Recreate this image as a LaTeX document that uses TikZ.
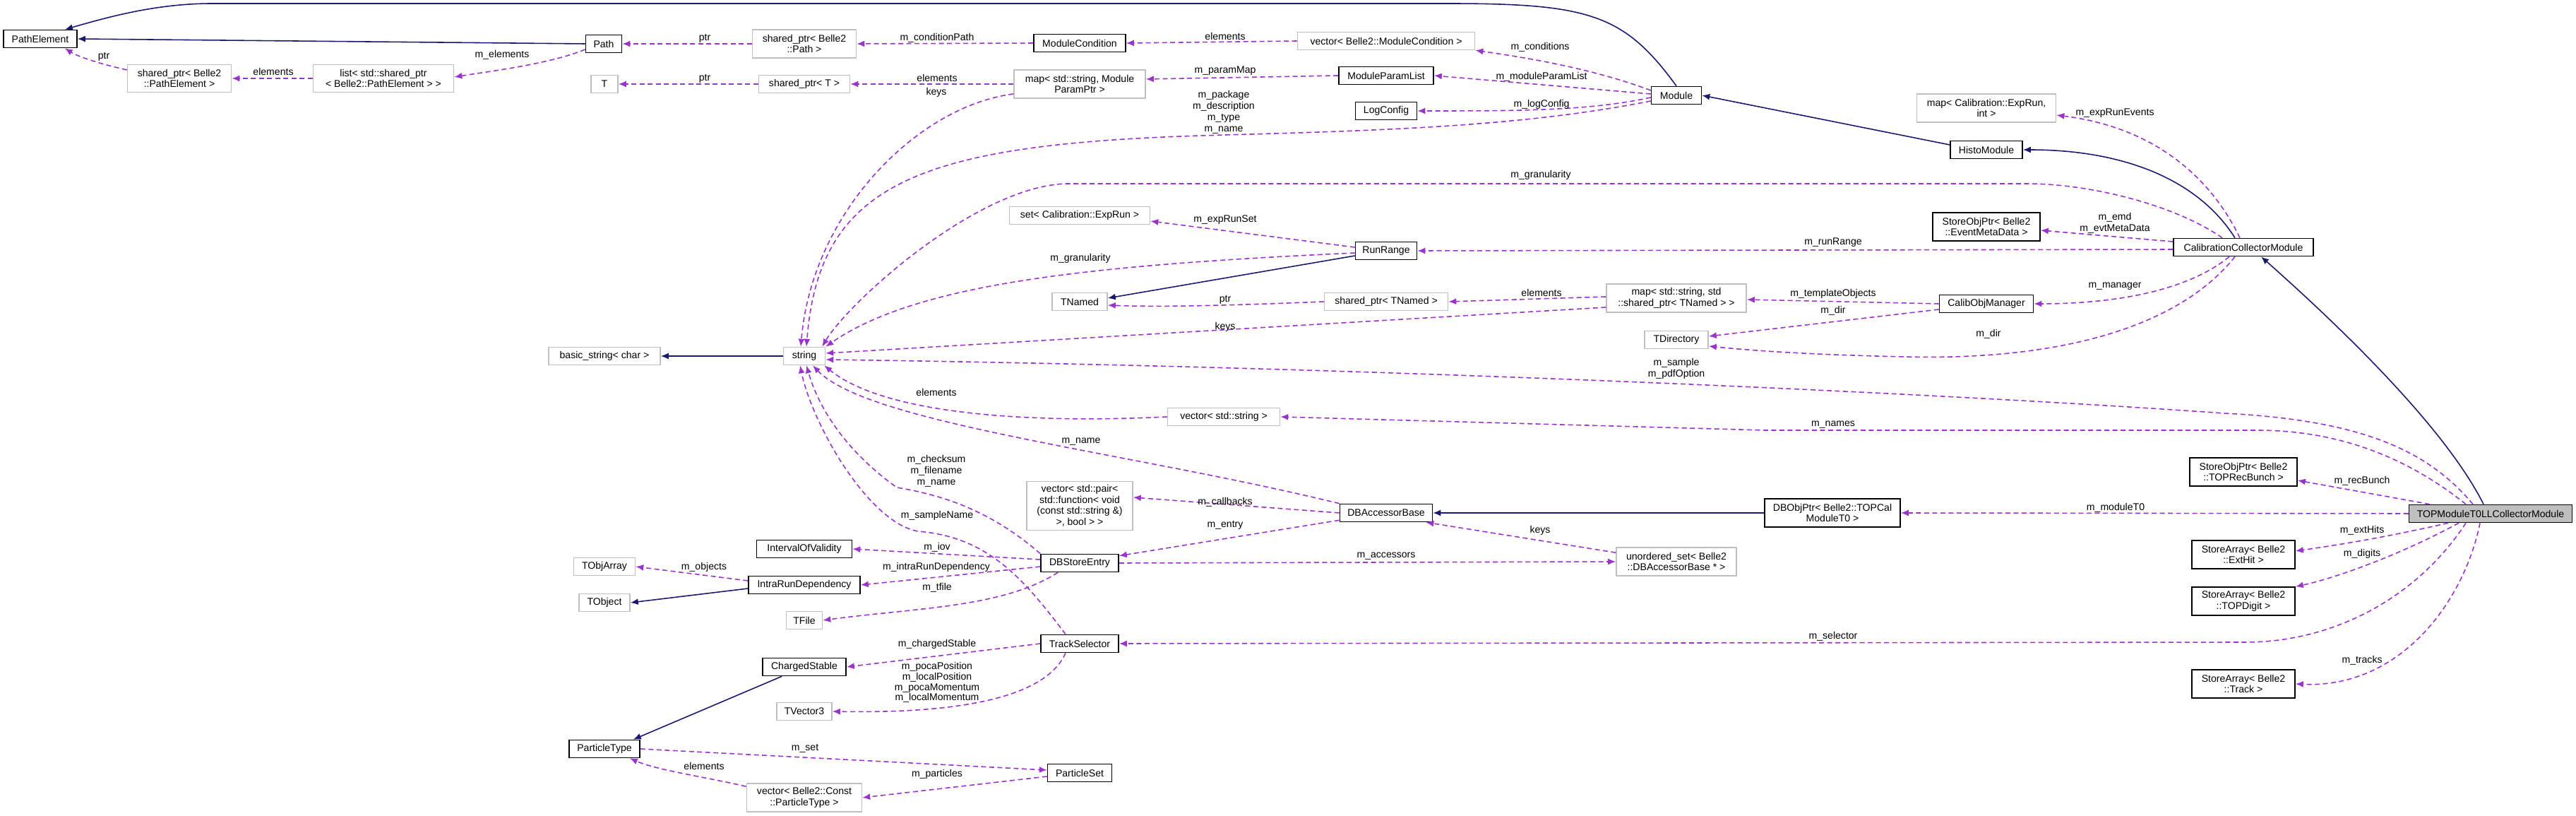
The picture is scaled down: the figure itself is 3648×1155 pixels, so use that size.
\documentclass[tikz,border=0pt]{standalone}
\usepackage{fontspec}
\setmainfont{Liberation Sans}
\usetikzlibrary{arrows.meta,calc}
\definecolor{inhc}{HTML}{191970}
\definecolor{usec}{HTML}{9A32CD}
\definecolor{g75}{HTML}{BFBFBF}
\tikzset{
  bx/.style={draw=black,line width=0.45pt,fill=white,inner sep=0.5pt,align=center,font=\fontsize{4}{4.4}\selectfont},
  gx/.style={bx,draw=g75},
  tx/.style={bx,fill=g75},
  bw/.style={minimum width=#1*0.01cm},
  bh/.style={minimum height=#1*0.01cm},
  lb/.style={inner sep=0pt,align=center,font=\fontsize{4}{4.4}\selectfont},
  inh/.style={draw=inhc,line width=0.45pt,-{Latex[length=1.1mm,width=0.9mm]}},
  use/.style={draw=usec,line width=0.45pt,dash pattern=on 0.7mm off 0.45mm,-{Latex[length=1.1mm,width=0.9mm]}}
}
\begin{document}
\begin{tikzpicture}[x=0.01cm,y=-0.01cm]
\useasboundingbox (0,0) rectangle (3648,1155);
% nodes
\node[bx,bw=104,bh=25] (PE) at (57,55) {PathElement};
\node[bx,bw=51,bh=25] (Path) at (855,62) {Path};
\node[gx,bw=147,bh=39] (spPE) at (254,111) {shared\_ptr< Belle2\\::PathElement >};
\node[gx,bw=199,bh=39] (lst) at (543,111) {list< std::shared\_ptr\\< Belle2::PathElement > >};
\node[gx,bw=38,bh=25] (T) at (856,119) {T};
\node[gx,bw=147,bh=40] (spPath) at (1139,62) {shared\_ptr< Belle2\\::Path >};
\node[bx,bw=130,bh=25] (MC) at (1529,61) {ModuleCondition};
\node[gx,bw=251,bh=25] (vMC) at (1963,58) {vector< Belle2::ModuleCondition >};
\node[gx,bw=129,bh=25] (spT) at (1139,119) {shared\_ptr< T >};
\node[gx,bw=186,bh=40] (mapP) at (1529,119) {map< std::string, Module\\ParamPtr >};
\node[bx,bw=134,bh=25] (MPL) at (1963,107) {ModuleParamList};
\node[bx,bw=87,bh=25] (LC) at (1963,157) {LogConfig};
\node[bx,bw=71,bh=25] (Mod) at (2374,135) {Module};
\node[gx,bw=199,bh=25] (sER) at (1529,305) {set< Calibration::ExpRun >};
\node[bx,bw=87,bh=25] (RR) at (1963,355) {RunRange};
\node[gx,bw=78,bh=25] (TN) at (1529,427) {TNamed};
\node[gx,bw=175,bh=25] (spTN) at (1963,427) {shared\_ptr< TNamed >};
\node[gx,bw=198,bh=40] (mapTN) at (2374,422) {map< std::string, std\\::shared\_ptr< TNamed > >};
\node[gx,bw=90,bh=25] (TD) at (2374,481) {TDirectory};
\node[gx,bw=197,bh=40] (mER) at (2813,153) {map< Calibration::ExpRun,\\int >};
\node[bx,bw=102,bh=25] (HM) at (2813,212) {HistoModule};
\node[bx,bw=152,bh=40] (EMD) at (2813,321) {StoreObjPtr< Belle2\\::EventMetaData >};
\node[bx,bw=198,bh=25] (CCM) at (3177,350) {CalibrationCollectorModule};
\node[bx,bw=133,bh=25] (COM) at (2813,430) {CalibObjManager};
\node[gx,bw=158,bh=25] (bs) at (856,504) {basic\_string< char >};
\node[gx,bw=59,bh=25] (str) at (1139,504) {string};
\node[gx,bw=159,bh=25] (vS) at (1733,590) {vector< std::string >};
\node[gx,bw=150,bh=69] (vP) at (1529,716) {vector< std::pair<\\std::function< void\\(const std::string \&)\\>, bool > >};
\node[bx,bw=131,bh=25] (DBA) at (1963,726) {DBAccessorBase};
\node[bx,bw=192,bh=40] (DBO) at (2595,726) {DBObjPtr< Belle2::TOPCal\\ModuleT0 >};
\node[bx,bw=152,bh=40] (RB) at (3177,668) {StoreObjPtr< Belle2\\::TOPRecBunch >};
\node[tx,bw=231,bh=25] (TOP) at (3527,727) {TOPModuleT0LLCollectorModule};
\node[bx,bw=146,bh=40] (EH) at (3177,785) {StoreArray< Belle2\\::ExtHit >};
\node[bx,bw=146,bh=40] (TDg) at (3177,851) {StoreArray< Belle2\\::TOPDigit >};
\node[bx,bw=146,bh=40] (Trk) at (3177,968) {StoreArray< Belle2\\::Track >};
\node[bx,bw=135,bh=25] (IOV) at (1139,777) {IntervalOfValidity};
\node[gx,bw=87,bh=25] (TOA) at (856,802) {TObjArray};
\node[bx,bw=158,bh=25] (IRD) at (1139,828) {IntraRunDependency};
\node[gx,bw=72,bh=25] (TOb) at (856,853) {TObject};
\node[bx,bw=110,bh=25] (DSE) at (1529,797) {DBStoreEntry};
\node[gx,bw=170,bh=40] (uS) at (2374,795) {unordered\_set< Belle2\\::DBAccessorBase * >};
\node[gx,bw=51,bh=25] (TF) at (1139,878) {TFile};
\node[bx,bw=110,bh=25] (TS) at (1529,911) {TrackSelector};
\node[bx,bw=118,bh=25] (CS) at (1139,944) {ChargedStable};
\node[gx,bw=78,bh=25] (TV) at (1139,1007) {TVector3};
\node[bx,bw=100,bh=25] (PT) at (856,1060) {ParticleType};
\node[bx,bw=91,bh=25] (PS) at (1529,1094) {ParticleSet};
\node[gx,bw=163,bh=40] (vPT) at (1139,1129) {vector< Belle2::Const\\::ParticleType >};

% inheritance
\draw[inh] (Mod.north) .. controls (2300,20) and (2250,5) .. (2050,5) -- (300,5) .. controls (220,5) and (150,25) .. ($(PE.north)+(35,0)$);
\draw[inh] (Path.west) -- (PE.east);
\draw[inh] ($(HM.west)+(0,-7)$) -- (Mod.east);
\draw[inh] ($(CCM.north)+(-12,0)$) .. controls (3110,250) and (3000,212) .. (HM.east);
\draw[inh] ($(TOP.north)+(-10,0)$) .. controls (3460,600) and (3300,450) .. ($(CCM.south)+(25,0)$);
\draw[inh] ($(RR.west)+(0,7)$) -- ($(TN.east)+(0,-5)$);
\draw[inh] (str.west) -- (bs.east);
\draw[inh] (DBO.west) -- (DBA.east);
\draw[inh] ($(IRD.west)+(0,5)$) -- (TOb.east);
\draw[inh] ($(CS.south west)+(28,0)$) -- ($(PT.north east)+(-10,0)$);

% usage
\draw[use] ($(spPE.west)+(0,-12)$) .. controls (140,90) and (110,80) .. ($(PE.south east)+(-18,0)$);
\draw[use] (lst.west) -- (spPE.east);
\draw[use] ($(Path.west)+(0,8)$) .. controls (780,90) and (700,100) .. ($(lst.east)+(0,-2)$);
\draw[use] (spPath.west) -- (Path.east);
\draw[use] (MC.west) -- (spPath.east);
\draw[use] (vMC.west) -- (MC.east);
\draw[use] ($(Mod.west)+(0,-7)$) .. controls (2250,95) and (2150,80) .. (vMC.south east);
\draw[use] (spT.west) -- (T.east);
\draw[use] (mapP.west) -- (spT.east);
\draw[use] (MPL.west) -- ($(mapP.east)+(0,-7)$);
\draw[use] ($(Mod.west)+(0,-2)$) -- (MPL.east);
\draw[use] ($(Mod.west)+(0,3)$) .. controls (2250,157) and (2150,157) .. (LC.east);
\draw[use] ($(Mod.west)+(0,8)$) .. controls (2150,180) and (1950,185) .. (1700,192) .. controls (1300,205) and (1160,260) .. ($(str.north)+(3,0)$);
\draw[use] ($(mapP.west)+(0,14)$) .. controls (1300,150) and (1150,300) .. ($(str.north)+(-5,0)$);
\draw[use] ($(CCM.north)+(-30,0)$) .. controls (3080,290) and (2960,260) .. (2870,260) -- (1509,260) .. controls (1380,265) and (1200,430) .. ($(str.north east)+(-5,0)$);
\draw[use] ($(RR.west)+(0,3)$) .. controls (1550,375) and (1300,400) .. (str.north east);
\draw[use] ($(RR.west)+(0,-5)$) -- ($(sER.east)+(0,8)$);
\draw[use] ($(CCM.west)+(0,3)$) -- (RR.east);
\draw[use] ($(CCM.north)+(-5,0)$) .. controls (3130,250) and (3050,180) .. ($(mER.east)+(0,10)$);
\draw[use] ($(CCM.west)+(0,-8)$) -- ($(EMD.east)+(0,5)$);
\draw[use] ($(CCM.south)+(-20,0)$) .. controls (3100,410) and (3000,430) .. (COM.east);
\draw[use] ($(CCM.south)+(-12,0)$) .. controls (3080,470) and (2900,510) .. (2700,505) .. controls (2550,502) and (2470,495) .. ($(TD.east)+(0,9)$);
\draw[use] (COM.west) -- ($(mapTN.east)+(0,2)$);
\draw[use] ($(COM.west)+(0,8)$) -- ($(TD.east)+(0,-5)$);
\draw[use] ($(mapTN.west)+(0,-2)$) -- (spTN.east);
\draw[use] (spTN.west) .. controls (1750,432) and (1650,435) .. ($(TN.east)+(0,5)$);
\draw[use] ($(mapTN.west)+(0,13)$) -- ($(str.east)+(0,-4)$);
\draw[use] ($(TOP.north)+(-25,0)$) .. controls (3440,640) and (3350,595) .. (3150,585) .. controls (2800,560) and (2000,520) .. ($(str.east)+(0,5)$);
\draw[use] (vS.west) .. controls (1450,600) and (1250,585) .. ($(str.south east)+(-2,0)$);
\draw[use] ($(TOP.north)+(-35,0)$) .. controls (3400,640) and (3300,609) .. (3196,609) -- (2500,609) -- (vS.east);
\draw[use] (DBA.north west) .. controls (1600,640) and (1230,600) .. ($(str.south)+(12,0)$);
\draw[use] (DSE.north west) .. controls (1400,720) and (1330,700) .. (1270,690) .. controls (1200,640) and (1160,580) .. ($(str.south)+(3,0)$);
\draw[use] ($(TS.north)+(-20,0)$) .. controls (1450,820) and (1400,760) .. (1300,752) .. controls (1230,740) and (1150,600) .. ($(str.south)+(-6,0)$);
\draw[use] (DBA.west) -- ($(vP.east)+(0,-12)$);
\draw[use] ($(DBA.south west)+(0,-3)$) -- ($(DSE.north east)+(0,3)$);
\draw[use] (DSE.east) -- (uS.west);
\draw[use] ($(uS.north west)+(0,8)$) -- ($(DBA.south east)+(-10,0)$);
\draw[use] ($(DSE.west)+(0,-5)$) -- (IOV.east);
\draw[use] ($(DSE.west)+(0,5)$) -- (IRD.east);
\draw[use] ($(DSE.south west)+(25,0)$) .. controls (1420,860) and (1300,860) .. (TF.east);
\draw[use] ($(IRD.west)+(0,-6)$) -- (TOA.east);
\draw[use] (TS.west) -- (CS.east);
\draw[use] ($(TS.south)+(-20,0)$) .. controls (1480,990) and (1350,1010) .. (TV.east);
\draw[use] (PT.east) -- ($(PS.west)+(0,-4)$);
\draw[use] ($(PS.west)+(0,5)$) -- (vPT.east);
\draw[use] ($(vPT.north west)+(0,5)$) .. controls (1000,1100) and (930,1090) .. ($(PT.south east)+(-15,0)$);
\draw[use] ($(TOP.north west)+(30,0)$) -- ($(RB.east)+(0,12)$);
\draw[use] (TOP.west) -- (DBO.east);
\draw[use] ($(TOP.south)+(-60,0)$) .. controls (3380,760) and (3320,770) .. ($(EH.east)+(0,-5)$);
\draw[use] ($(TOP.south)+(-45,0)$) .. controls (3390,790) and (3300,820) .. (TDg.north east);
\draw[use] ($(TOP.south)+(-35,0)$) .. controls (3420,850) and (3300,909) .. (3180,909) -- (TS.east);
\draw[use] ($(TOP.south)+(-15,0)$) .. controls (3490,850) and (3400,975) .. (Trk.east);

% labels
\node[lb] (l1) at (147,80) {ptr};
\node[lb] (l2) at (387,101) {elements};
\node[lb] (l3) at (711,78) {m\_elements};
\node[lb] (l4) at (998,54) {ptr};
\node[lb] (l5) at (998,111) {ptr};
\node[lb] (l6) at (1327,54) {m\_conditionPath};
\node[lb] (l7) at (1735,51) {elements};
\node[lb] (l8) at (2181,67) {m\_conditions};
\node[lb] (l9) at (1327,110) {elements};
\node[lb] (l10) at (1326,131) {keys};
\node[lb] (l11) at (1735,100) {m\_paramMap};
\node[lb] (l12) at (2183,109) {m\_moduleParamList};
\node[lb] (l13) at (2183,148) {m\_logConfig};
\node[lb,font=\fontsize{4}{4.6}\selectfont] (l14) at (1733,159) {m\_package\\m\_description\\m\_type\\m\_name};
\node[lb] (l15) at (2182,248) {m\_granularity};
\node[lb] (l16) at (1735,311) {m\_expRunSet};
\node[lb] (l17) at (1530,366) {m\_granularity};
\node[lb] (l18) at (2995,160) {m\_expRunEvents};
\node[lb] (l19) at (2995,316) {m\_emd\\m\_evtMetaData};
\node[lb] (l20) at (2596,343) {m\_runRange};
\node[lb] (l21) at (2995,405) {m\_manager};
\node[lb] (l22) at (2596,416) {m\_templateObjects};
\node[lb] (l23) at (2596,440) {m\_dir};
\node[lb] (l24) at (2816,473) {m\_dir};
\node[lb] (l25) at (1735,424) {ptr};
\node[lb] (l26) at (2183,414) {elements};
\node[lb] (l27) at (1735,463) {keys};
\node[lb] (l28) at (2374,522) {m\_sample\\m\_pdfOption};
\node[lb] (l29) at (1326,555) {elements};
\node[lb] (l30) at (2596,601) {m\_names};
\node[lb] (l31) at (1531,625) {m\_name};
\node[lb,font=\fontsize{4}{4.6}\selectfont] (l32) at (1326,667) {m\_checksum\\m\_filename\\m\_name};
\node[lb] (l33) at (1327,730) {m\_sampleName};
\node[lb] (l34) at (1735,711) {m\_callbacks};
\node[lb] (l35) at (1735,743) {m\_entry};
\node[lb] (l36) at (1327,775) {m\_iov};
\node[lb] (l37) at (1326,803) {m\_intraRunDependency};
\node[lb] (l38) at (1327,832) {m\_tfile};
\node[lb] (l39) at (2181,751) {keys};
\node[lb] (l40) at (1963,787) {m\_accessors};
\node[lb] (l41) at (997,803) {m\_objects};
\node[lb] (l42) at (1327,912) {m\_chargedStable};
\node[lb,font=\fontsize{4}{4.2}\selectfont] (l43) at (1327,966) {m\_pocaPosition\\m\_localPosition\\m\_pocaMomentum\\m\_localMomentum};
\node[lb] (l44) at (1140,1059) {m\_set};
\node[lb] (l45) at (997,1084) {elements};
\node[lb] (l46) at (1327,1096) {m\_particles};
\node[lb] (l47) at (3345,681) {m\_recBunch};
\node[lb] (l48) at (2996,719) {m\_moduleT0};
\node[lb] (l49) at (3345,751) {m\_extHits};
\node[lb] (l50) at (3345,784) {m\_digits};
\node[lb] (l51) at (2596,901) {m\_selector};
\node[lb] (l52) at (3345,935) {m\_tracks};
\end{tikzpicture}
\end{document}
